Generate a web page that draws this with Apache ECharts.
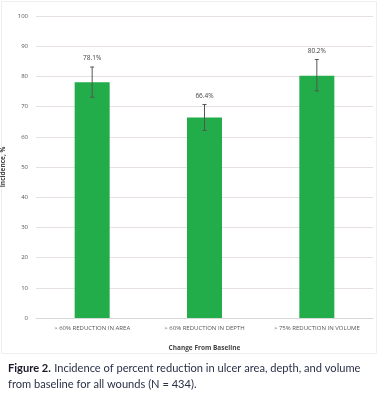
<!DOCTYPE html>
<html><head><meta charset="utf-8">
<script src="https://cdn.jsdelivr.net/npm/echarts@6/dist/echarts.min.js"></script>
<style>html,body{margin:0;padding:0;background:#fff;}#c{width:378px;height:396px;}</style>
</head><body><div id="c"></div>
<script>
var categories = ['> 60% REDUCTION IN AREA', '> 60% REDUCTION IN DEPTH', '> 75% REDUCTION IN VOLUME'];
var values = [78.1, 66.4, 80.2];
var errLow = [73.1, 62.1, 75.2];
var errHigh = [83.1, 70.7, 85.6];
var yTicks = [0, 10, 20, 30, 40, 50, 60, 70, 80, 90, 100];

var chart = echarts.init(document.getElementById('c'));
chart.setOption({
  animation: false,
  grid: {left: 36, right: 5, top: 16, bottom: 78, outerBoundsMode: 'none', containLabel: false},
  xAxis: {
    type: 'category', data: categories,
    name: 'Change From Baseline', nameLocation: 'middle', nameGap: 27,
    nameTextStyle: {fontFamily: 'Open Sans', fontSize: 6.5, fontWeight: 'bold', color: '#444'},
    axisLine: {lineStyle: {color: '#d9d9d9'}}, axisTick: {show: false},
    axisLabel: {interval: 0, fontFamily: 'Open Sans', fontSize: 6, color: '#555', margin: 7}
  },
  yAxis: {
    type: 'value', min: 0, max: 100, interval: 10,
    name: 'Incidence, %', nameLocation: 'middle', nameGap: 20,
    nameTextStyle: {fontFamily: 'Open Sans', fontSize: 6.5, fontWeight: 'bold', color: '#444'},
    axisLabel: {fontFamily: 'Open Sans', fontSize: 6, color: '#555', margin: 8},
    splitLine: {lineStyle: {color: '#e6e0e0', width: 1}},
    axisLine: {show: false}, axisTick: {show: false}
  },
  series: [
    {type: 'bar', data: values, barWidth: 35, itemStyle: {color: '#22ad4a'}, z: 2},
    {type: 'custom', z: 3,
     data: categories.map(function (c, i) { return [i, errLow[i], errHigh[i], values[i]]; }),
     encode: {x: 0, y: [1, 2]},
     renderItem: function (params, api) {
       var lo = api.coord([api.value(0), api.value(1)]);
       var hi = api.coord([api.value(0), api.value(2)]);
       var hw = 2;
       var st = {stroke: '#555', lineWidth: 1};
       return {type: 'group', children: [
         {type: 'line', shape: {x1: hi[0], y1: hi[1], x2: lo[0], y2: lo[1]}, style: st},
         {type: 'line', shape: {x1: hi[0]-hw, y1: hi[1], x2: hi[0]+hw, y2: hi[1]}, style: st},
         {type: 'line', shape: {x1: lo[0]-hw, y1: lo[1], x2: lo[0]+hw, y2: lo[1]}, style: st},
         {type: 'text', x: hi[0], y: hi[1] - 5, style: {text: api.value(3).toFixed(1) + '%', fontFamily: 'Open Sans', fontSize: 6.5, fill: '#444', align: 'center', verticalAlign: 'bottom'}}
       ]};
     }
    }
  ],
  graphic: [
    {type: 'rect', shape: {x: 1.5, y: 1.5, width: 375, height: 352}, style: {fill: 'none', stroke: '#eeeeee', lineWidth: 1}, z: -1},
    {type: 'text', left: 8, top: 361, style: {
      rich: {b: {fontFamily: 'Lato', fontWeight: 'bold', fontSize: 11.1, fill: '#1a1a2a'},
             n: {fontFamily: 'Lato', fontSize: 11.1, fill: '#2a3048'}},
      text: '{b|Figure 2.} {n|Incidence of percent reduction in ulcer area, depth, and volume}\n{n|from baseline for all wounds (N = 434).}',
      lineHeight: 15.5
    }}
  ]
});
</script></body></html>
